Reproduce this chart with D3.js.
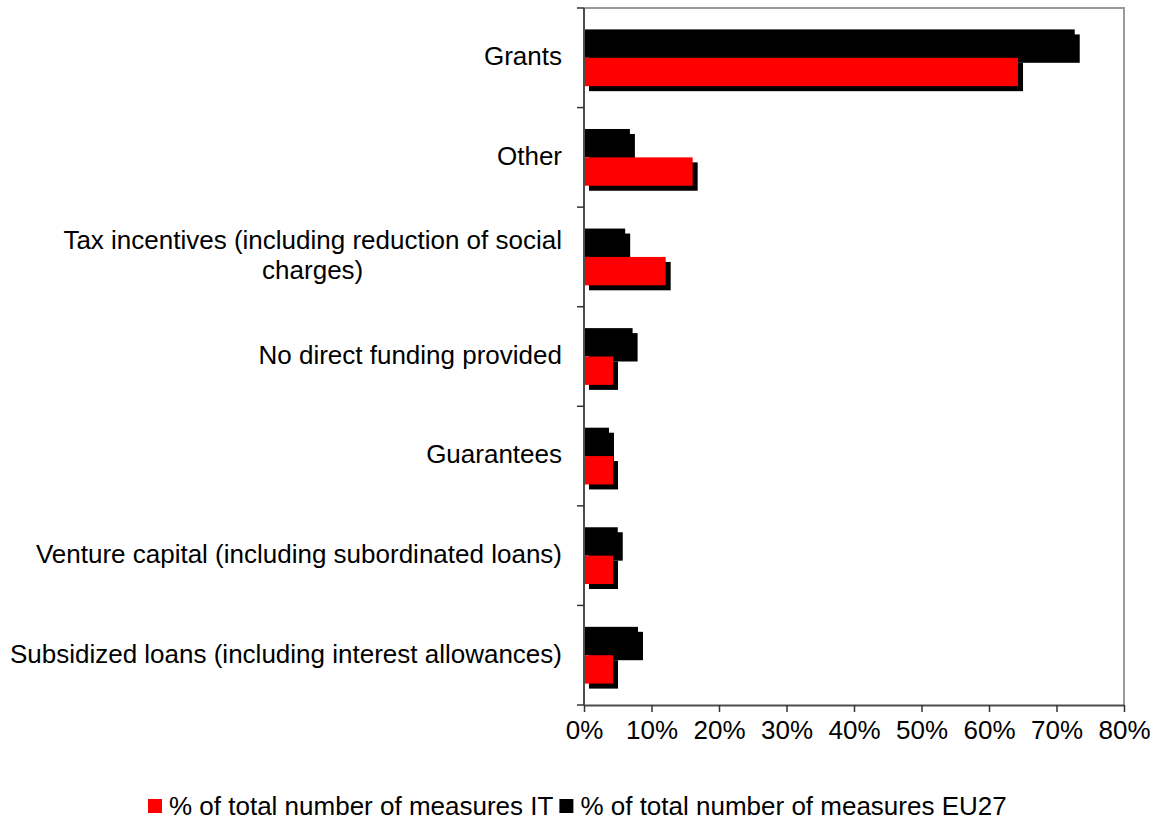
<!DOCTYPE html>
<html>
<head>
<meta charset="utf-8">
<script src="https://cdn.jsdelivr.net/npm/d3@7"></script>
<style>
  html, body { margin: 0; padding: 0; background: #fff; }
  svg { display: block; font-family: "Liberation Sans", Arial, sans-serif; }
</style>
</head>
<body>
<svg id="chart" width="1158" height="823"></svg>
<script>
// Instrument types, top to bottom
const categories = [
  "Grants",
  "Other",
  "Tax incentives (including reduction of social charges)",
  "No direct funding provided",
  "Guarantees",
  "Venture capital (including subordinated loans)",
  "Subsidized loans (including interest allowances)"
];
// Share of total number of measures (fractions)
const valuesEU27 = [0.727, 0.068, 0.061, 0.072, 0.037, 0.050, 0.080];
const valuesIT   = [0.643, 0.161, 0.121, 0.043, 0.043, 0.043, 0.043];
const xTicks = [0, 0.1, 0.2, 0.3, 0.4, 0.5, 0.6, 0.7, 0.8];
const seriesNames = ["% of total number of measures IT", "% of total number of measures EU27"];

const FONT = 26;
const svg = d3.select("#chart");

const plot = { left: 584, right: 1124, top: 8, bottom: 705 };

const x = d3.scaleLinear().domain([0, 0.8]).range([plot.left, plot.right]);
const y = d3.scaleBand().domain(categories).range([plot.top, plot.bottom]).padding(0);
// Within each category: EU27 bar on top, IT bar below
const sub = d3.scaleBand().domain(["EU27", "IT"]).range([0.215, 0.785]).padding(0);

const rows = categories.map((c, i) => ({ cat: c, EU27: valuesEU27[i], IT: valuesIT[i] }));
const colors = { EU27: "#000000", IT: "#ff0000" };
const shadow = { dx: 5, dy: 5 };

// Plot area frame (top and right edges)
svg.append("path")
  .attr("d", `M${plot.left},${plot.top}H${plot.right}V${plot.bottom}`)
  .attr("fill", "none").attr("stroke", "#9a9a9a").attr("stroke-width", 2);

// Bars with drop shadow
const bw = y.bandwidth();
["EU27", "IT"].forEach(key => {
  const g = svg.append("g");
  const yy = d => y(d.cat) + sub(key) * bw;
  const hh = sub.bandwidth() * bw;
  g.selectAll("rect.sh").data(rows).join("rect").attr("class", "sh")
    .attr("x", x(0) + shadow.dx).attr("y", d => yy(d) + shadow.dy)
    .attr("width", d => x(d[key]) - x(0)).attr("height", hh)
    .attr("fill", "#000");
  g.selectAll("rect.bar").data(rows).join("rect").attr("class", "bar")
    .attr("x", x(0)).attr("y", yy)
    .attr("width", d => x(d[key]) - x(0)).attr("height", hh)
    .attr("fill", colors[key]);
});

// X axis
const xAxis = svg.append("g")
  .attr("transform", `translate(0,${plot.bottom})`)
  .call(d3.axisBottom(x).tickValues(xTicks).tickFormat(d3.format(".0%")).tickSize(7).tickSizeOuter(0));
xAxis.select(".domain").attr("stroke", "#4d4d4d").attr("stroke-width", 2);
xAxis.selectAll(".tick line").attr("stroke", "#333").attr("stroke-width", 1.5);
xAxis.selectAll(".tick text")
  .attr("y", 16).attr("dy", "0.71em")
  .attr("font-size", FONT).attr("fill", "#000")
  .attr("font-family", "Liberation Sans, Arial, sans-serif");

// Y axis: line with ticks on category boundaries
const yAxis = svg.append("g");
yAxis.append("line")
  .attr("x1", plot.left).attr("x2", plot.left)
  .attr("y1", plot.top).attr("y2", plot.bottom)
  .attr("stroke", "#4d4d4d").attr("stroke-width", 2);
const bounds = categories.map(c => y(c)).concat([plot.bottom]);
yAxis.selectAll("line.tk").data(bounds).join("line").attr("class", "tk")
  .attr("x1", plot.left - 7).attr("x2", plot.left)
  .attr("y1", d => d).attr("y2", d => d)
  .attr("stroke", "#333").attr("stroke-width", 1.5);

// Category labels: wrapped, centred lines, block right-aligned to the axis
const labelRight = 562, maxW = 560, lineH = 30;
const measure = svg.append("text").attr("font-size", FONT).attr("visibility", "hidden");
function textW(s) { measure.text(s); return measure.node().getComputedTextLength(); }
categories.forEach(c => {
  const words = c.split(" ");
  const lines = [];
  let cur = "";
  words.forEach(w => {
    const t = cur ? cur + " " + w : w;
    if (cur && textW(t) > maxW) { lines.push(cur); cur = w; } else cur = t;
  });
  lines.push(cur);
  const blockW = d3.max(lines, textW);
  const cx = labelRight - blockW / 2;
  const cy = y(c) + bw / 2 - 2;
  const t = svg.append("text").attr("font-size", FONT).attr("text-anchor", "middle").attr("fill", "#000");
  lines.forEach((ln, i) => {
    t.append("tspan").attr("x", cx)
      .attr("y", cy + (i - (lines.length - 1) / 2) * lineH + FONT * 0.36)
      .text(ln);
  });
});
measure.remove();

// Legend
const legend = svg.append("g").attr("transform", "translate(148,806)");
let lx = 0;
[["IT", seriesNames[0]], ["EU27", seriesNames[1]]].forEach(([key, name]) => {
  legend.append("rect").attr("x", lx).attr("y", -7).attr("width", 14).attr("height", 14).attr("fill", colors[key]);
  const tx = legend.append("text").attr("x", lx + 21).attr("y", FONT * 0.36)
    .attr("font-size", FONT).attr("fill", "#000").text(name);
  lx += 21 + tx.node().getComputedTextLength() + 6;
});
</script>
</body>
</html>
